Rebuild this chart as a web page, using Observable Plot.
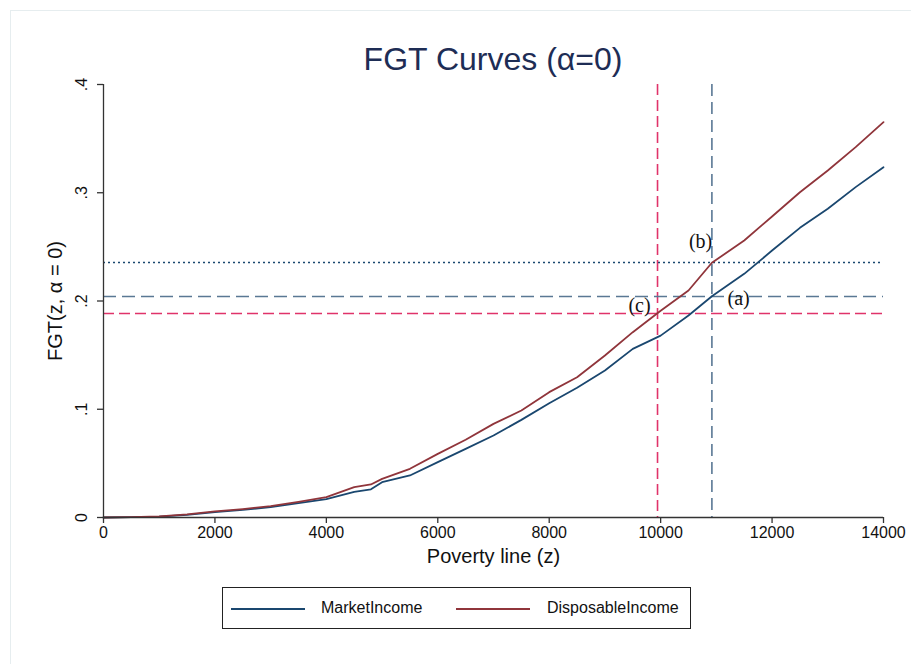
<!DOCTYPE html>
<html>
<head>
<meta charset="utf-8">
<script src="https://cdn.jsdelivr.net/npm/d3@7"></script>
<script src="https://cdn.jsdelivr.net/npm/@observablehq/plot@0.6"></script>
<style>
  html, body { margin: 0; padding: 0; background: #fff; }
  #wrap { position: relative; width: 911px; height: 664px; overflow: hidden; font-family: "Liberation Sans", Arial, sans-serif; }
  #frame { position: absolute; left: 10px; top: 10px; width: 920px; height: 680px; border: 1.5px solid #e6edef; box-sizing: border-box; }
  #title { position: absolute; left: 0; width: 986px; top: 41px; text-align: center; font-size: 32px; line-height: 36px; color: #1e2d55; }
  #chart { position: absolute; left: 0; top: 0; }
  #legend { position: absolute; left: 222px; top: 587px; width: 469px; height: 42px; box-sizing: border-box; border: 1px solid #222; background: #fff; font-size: 16px; color: #111; }
  .sw { position: absolute; top: 20px; height: 2px; width: 74px; }
  .lb { position: absolute; top: 11px; }
</style>
</head>
<body>
<div id="wrap">
  <div id="frame"></div>
  <div id="chart"></div>
  <div id="title">FGT Curves (α=0)</div>
  <div id="legend"></div>
</div>
<script>
// ---- data ----
const povertyLine = [0, 500, 1000, 1500, 2000, 2500, 3000, 3500, 4000, 4500, 4800, 5000, 5500, 6000, 6500, 7000, 7500, 8000, 8500, 9000, 9500, 10000, 10500, 10920, 11500, 12000, 12500, 13000, 13500, 14000];
const marketIncome = [0, 0.0003, 0.0009, 0.0025, 0.0049, 0.0071, 0.0095, 0.0132, 0.0169, 0.0237, 0.026, 0.0326, 0.0388, 0.0511, 0.0634, 0.0757, 0.0902, 0.1056, 0.1198, 0.1358, 0.1558, 0.168, 0.1866, 0.2044, 0.2251, 0.2466, 0.2676, 0.2852, 0.3052, 0.3236];
const disposableIncome = [0, 0.0003, 0.001, 0.0028, 0.0056, 0.0078, 0.0105, 0.0145, 0.0188, 0.028, 0.0305, 0.0357, 0.045, 0.0588, 0.0718, 0.0865, 0.0988, 0.1158, 0.1296, 0.1497, 0.1712, 0.191, 0.2097, 0.2353, 0.2559, 0.2781, 0.3005, 0.3206, 0.3421, 0.3652];
const seriesNames = ["MarketIncome", "DisposableIncome"];
const seriesColors = ["#1a476f", "#90353b"];
const xTicks = [0, 2000, 4000, 6000, 8000, 10000, 12000, 14000];
const yTicks = [0, 0.1, 0.2, 0.3, 0.4];
const yTickLabels = ["0", ".1", ".2", ".3", ".4"];
// reference lines
const zDisposable = 9944;   // (c) vertical
const zMarket = 10920;      // (a) vertical
const hMarketAtZ = 0.2042;  // (a) horizontal
const hDispAtZ = 0.2356;    // (b) horizontal
const hDispAtC = 0.1885;    // (c) horizontal
const annotations = [
  {label: "(a)", z: 11400, v: 0.2023},
  {label: "(b)", z: 10716, v: 0.255},
  {label: "(c)", z: 9620, v: 0.1958}
];

const rows = [];
povertyLine.forEach((z, i) => {
  rows.push({z, v: marketIncome[i], s: seriesNames[0]});
  rows.push({z, v: disposableIncome[i], s: seriesNames[1]});
});

const chart = Plot.plot({
  width: 911,
  height: 664,
  marginLeft: 103,
  marginRight: 28,
  marginTop: 84,
  marginBottom: 147,
  style: {fontFamily: "Liberation Sans, Arial, sans-serif", background: "transparent", color: "#111"},
  x: {domain: [0, 14000], axis: null},
  y: {domain: [0, 0.4], axis: null},
  color: {domain: seriesNames, range: seriesColors},
  marks: [
    Plot.ruleX([zDisposable], {stroke: "#e0336a", strokeWidth: 1.6, strokeDasharray: "11,5"}),
    Plot.ruleX([zMarket], {stroke: "#5a7894", strokeWidth: 1.6, strokeDasharray: "12,6"}),
    Plot.ruleY([hDispAtZ], {stroke: "#1a476f", strokeWidth: 1.5, strokeDasharray: "2,3"}),
    Plot.ruleY([hMarketAtZ], {stroke: "#5a7894", strokeWidth: 1.6, strokeDasharray: "13,6"}),
    Plot.ruleY([hDispAtC], {stroke: "#e0336a", strokeWidth: 1.6, strokeDasharray: "11,5"}),
    Plot.line(rows, {x: "z", y: "v", stroke: "s", z: "s", strokeWidth: 1.8}),
    Plot.ruleX([0], {y1: 0, y2: 0.4, stroke: "#333", strokeWidth: 1.3}),
    Plot.ruleY([0], {x1: 0, x2: 14000, stroke: "#333", strokeWidth: 1.3}),
    Plot.axisY({ticks: yTicks, tickFormat: () => "", tickSize: 6, stroke: "#333", strokeWidth: 1.3, label: null}),
    Plot.axisX({ticks: xTicks, tickFormat: d => String(d), tickSize: 6, tickPadding: 3, fontSize: 16, label: null, stroke: "#333", strokeWidth: 1.3}),
    Plot.text(yTicks, {y: d => d, text: (d, i) => yTickLabels[i], frameAnchor: "left", dx: -22, rotate: -90, fontSize: 16, textAnchor: "middle", fill: "#111"}),
    Plot.text(["FGT(z, α = 0)"], {frameAnchor: "left", dx: -48, rotate: -90, fontSize: 20, textAnchor: "middle", fill: "#111"}),
    Plot.text(["Poverty line (z)"], {frameAnchor: "bottom", dy: 45, fontSize: 20, fill: "#111"}),
    Plot.text(annotations, {x: "z", y: "v", text: "label", fontFamily: "Liberation Serif, Times New Roman, serif", fontSize: 20, fill: "#111"})
  ]
});
document.getElementById("chart").appendChild(chart);

const legend = document.getElementById("legend");
const swX = [8, 233], lbX = [98, 324];
seriesNames.forEach((n, i) => {
  const sw = document.createElement("div");
  sw.className = "sw"; sw.style.left = swX[i] + "px"; sw.style.background = seriesColors[i];
  legend.appendChild(sw);
  const lb = document.createElement("div");
  lb.className = "lb"; lb.style.left = lbX[i] + "px"; lb.textContent = n;
  legend.appendChild(lb);
});
</script>
</body>
</html>
